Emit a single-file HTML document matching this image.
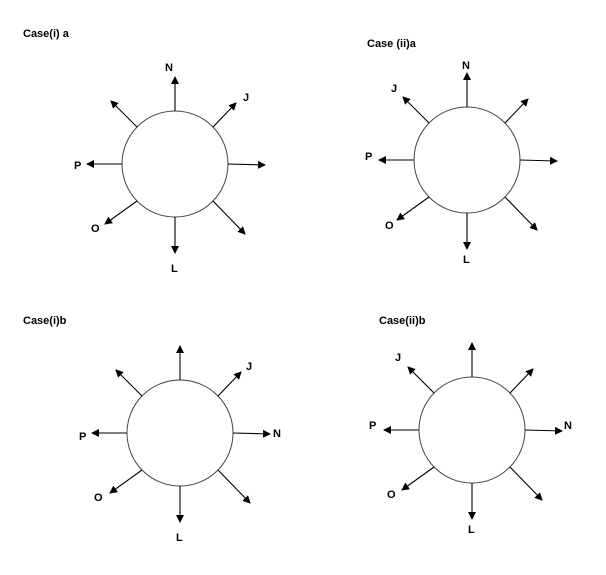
<!DOCTYPE html>
<html><head><meta charset="utf-8"><style>
html,body{margin:0;padding:0;background:#fff;}
svg{display:block;}
text{font-family:"Liberation Sans",sans-serif;font-weight:bold;font-size:11px;fill:#000;}
</style></head><body>
<svg width="606" height="575" viewBox="0 0 606 575" xmlns="http://www.w3.org/2000/svg">
<defs>
<marker id="a" markerWidth="8" markerHeight="8" refX="7" refY="4" orient="auto" markerUnits="userSpaceOnUse">
<path d="M0,0 L8,4 L0,8 z" fill="#000"/></marker>
<g id="d">
<circle cx="0" cy="0" r="53" fill="#fff" stroke="#444" stroke-width="1"/>
<g stroke="#000" stroke-width="1.1" marker-end="url(#a)">
<line x1="0" y1="-53" x2="0" y2="-87"/>
<line x1="0" y1="53" x2="0" y2="89"/>
<line x1="-53" y1="0" x2="-88" y2="0"/>
<line x1="53" y1="0" x2="90" y2="1"/>
<line x1="-38" y1="-37" x2="-64" y2="-63"/>
<line x1="38" y1="-37" x2="61" y2="-61"/>
<line x1="-38" y1="37" x2="-70" y2="60"/>
<line x1="38" y1="37" x2="70" y2="70"/>
</g>
</g>
</defs>
<use href="#d" x="175" y="164"/>
<use href="#d" x="467" y="160"/>
<use href="#d" x="180" y="433"/>
<use href="#d" x="472" y="430"/>

<text x="23" y="37">Case(i) a</text>
<text x="165" y="71">N</text>
<text x="243" y="101">J</text>
<text x="74" y="169">P</text>
<text x="91" y="232">O</text>
<text x="171" y="272">L</text>

<text x="367" y="47">Case (ii)a</text>
<text x="462" y="69">N</text>
<text x="391" y="92">J</text>
<text x="365" y="160">P</text>
<text x="385" y="229">O</text>
<text x="463" y="263">L</text>

<text x="23" y="324">Case(i)b</text>
<text x="246" y="370">J</text>
<text x="79" y="440">P</text>
<text x="273" y="437">N</text>
<text x="94" y="501">O</text>
<text x="176" y="541">L</text>

<text x="379" y="324">Case(ii)b</text>
<text x="395" y="361">J</text>
<text x="369" y="429">P</text>
<text x="564" y="429">N</text>
<text x="387" y="498">O</text>
<text x="468" y="533">L</text>
</svg>
</body></html>
